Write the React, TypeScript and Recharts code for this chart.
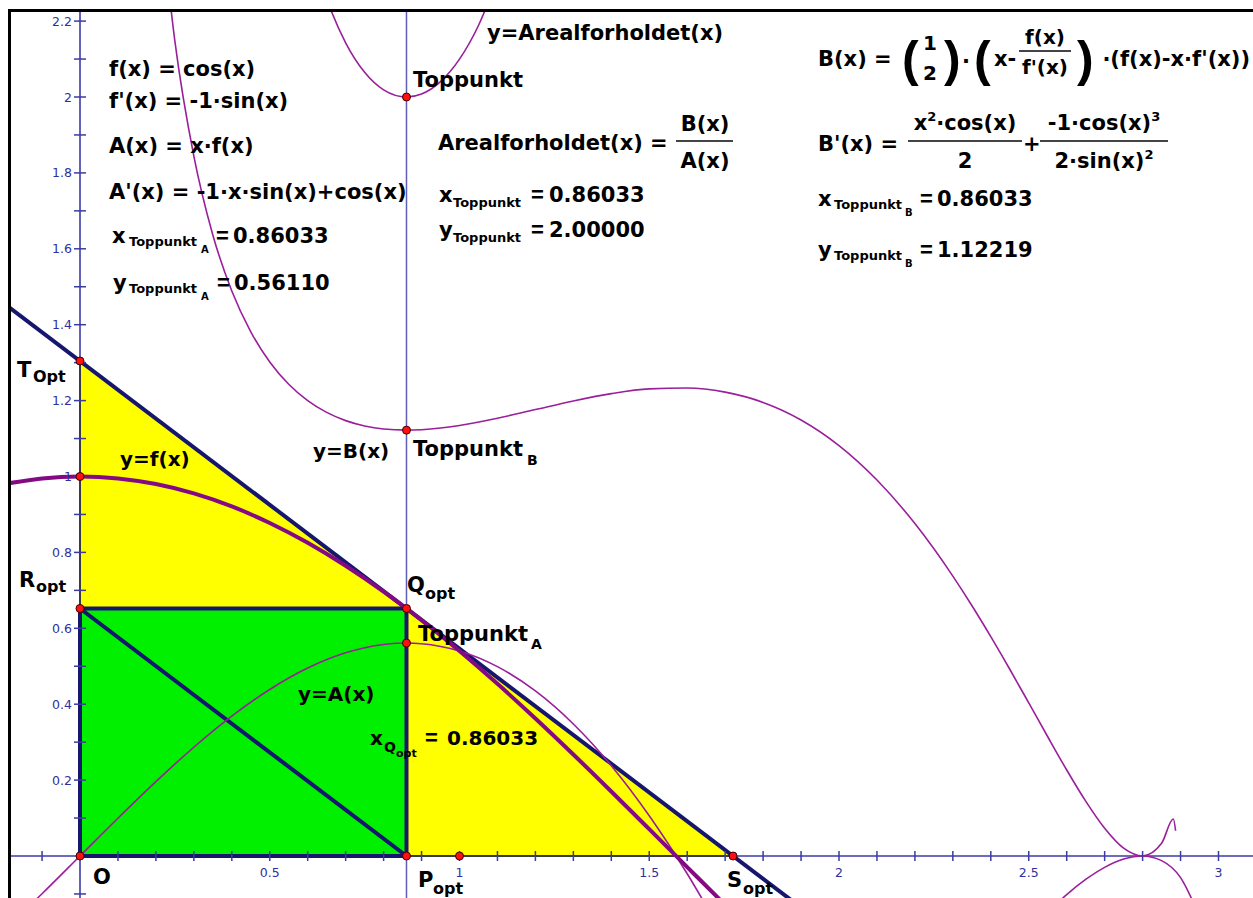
import React from 'react';
import { Area, ComposedChart, Line, Scatter, XAxis, YAxis } from 'recharts';

// visible window of the graphics view, in graph units
const X_DOMAIN: [number, number] = [-0.18182, 3.09091];
const Y_DOMAIN: [number, number] = [-0.11067, 2.22398];

// optimal construction: Q on the curve, tangent hits the axes in T and S
const qX = 0.86033;
const qY = 0.65224;
const tY = 1.30438;
const sX = 1.72079;

// f(x) = cos(x)
const fX = [-0.2, -0.1, 0, 0.1, 0.2, 0.3, 0.4, 0.5, 0.6, 0.7, 0.8, 0.9, 1.0, 1.1, 1.2, 1.3, 1.4, 1.5, 1.6, 1.7, 1.8];
const fY = [0.98007, 0.995, 1, 0.995, 0.98007, 0.95534, 0.92106, 0.87758, 0.82534, 0.76484, 0.69671, 0.62161, 0.5403, 0.4536, 0.36236, 0.2675, 0.16997, 0.07074, -0.0292, -0.12884, -0.2272];

// A(x) = x·f(x)
const aX = [-0.2, -0.1, 0, 0.1, 0.2, 0.3, 0.4, 0.5, 0.6, 0.7, 0.8, 0.86033, 0.9, 1.0, 1.1, 1.2, 1.3, 1.4, 1.5, 1.6, 1.7];
const aY = [-0.19601, -0.0995, 0, 0.0995, 0.19601, 0.2866, 0.36842, 0.43879, 0.4952, 0.53539, 0.55737, 0.56114, 0.55945, 0.5403, 0.49896, 0.43483, 0.34775, 0.23796, 0.10611, -0.04672, -0.21903];

// B(x), triangle area
const bX = [0.2, 0.25, 0.3, 0.35, 0.4, 0.45, 0.5, 0.55, 0.6, 0.65, 0.7, 0.75, 0.8, 0.86033, 0.9, 0.95, 1.0, 1.1, 1.2, 1.3, 1.4, 1.5, 1.6, 1.7, 1.8, 1.9, 2.0, 2.1, 2.2, 2.3, 2.35, 2.4, 2.45, 2.5, 2.55, 2.6, 2.65, 2.7, 2.75, 2.8, 2.85, 2.881, 2.887];
const bY = [2.6174, 2.14726, 1.84409, 1.63648, 1.48883, 1.38128, 1.30191, 1.24319, 1.20004, 1.16889, 1.14724, 1.1332, 1.12525, 1.12219, 1.12334, 1.12763, 1.13447, 1.15358, 1.17635, 1.19909, 1.21836, 1.2308, 1.23316, 1.22229, 1.19518, 1.14904, 1.08155, 0.99082, 0.87605, 0.73761, 0.66021, 0.57809, 0.49212, 0.40359, 0.31425, 0.22666, 0.14446, 0.07304, 0.02056, 0.00003, 0.03335, 0.09732, 0.0665];

// Arealforholdet(x) = B(x)/A(x), two visible branches
const rTopX = [0.6, 0.65, 0.7, 0.75, 0.8, 0.86033, 0.9, 0.95, 1.0, 1.05, 1.1];
const rTopY = [2.4233, 2.25894, 2.14283, 2.06502, 2.01887, 2.0, 2.00794, 2.0406, 2.09971, 2.18837, 2.31197];
const rLowX = [2.55, 2.6, 2.65, 2.7, 2.75, 2.8, 2.85, 2.9, 2.95];
const rLowY = [-0.14847, -0.10173, -0.06184, -0.02992, -0.00809, -0.00001, -0.01222, -0.057, -0.15991];

// tangent line through Q
const tanX = [-0.2, 1.9];
const tanY = [1.45598, -0.13584];

// axis ticks and their labels
const xTicks = [-0.1, 0.1, 0.2, 0.3, 0.4, 0.5, 0.6, 0.7, 0.8, 0.9, 1, 1.1, 1.2, 1.3, 1.4, 1.5, 1.6, 1.7, 1.8, 1.9, 2, 2.1, 2.2, 2.3, 2.4, 2.5, 2.6, 2.7, 2.8, 2.9, 3];
const xLabelAt = [0.5, 1, 1.5, 2, 2.5, 3];
const xLabels = ['0.5', '1', '1.5', '2', '2.5', '3'];
const yTicks = [-0.1, 0.1, 0.2, 0.3, 0.4, 0.5, 0.6, 0.7, 0.8, 0.9, 1, 1.1, 1.2, 1.3, 1.4, 1.5, 1.6, 1.7, 1.8, 1.9, 2, 2.1, 2.2];
const yLabelAt = [0.2, 0.4, 0.6, 0.8, 1, 1.2, 1.4, 1.6, 1.8, 2, 2.2];
const yLabels = ['0.2', '0.4', '0.6', '0.8', '1', '1.2', '1.4', '1.6', '1.8', '2', '2.2'];

// named points: T, f(0), R, Q, TopA, O, P, (1,0), S, TopB, Toppunkt
const ptX = [0, 0, 0, qX, qX, 0, qX, 1, sX, qX, qX];
const ptY = [tY, 1, qY, qY, 0.5611, 0, 0, 0, 0, 1.12219, 2.0];

const AXIS = '#3b3ba4';
const NAVY = '#16166e';
const PURPLE = '#840a84';
const THIN = '#9a1f9a';
const FONT = "'DejaVu Sans', Verdana, sans-serif";
const NARROW = "'Liberation Sans', Arial, sans-serif";

const pairs = (xs: number[], ys: number[]) => xs.map((x, i) => ({ x, y: ys[i] }));

const fData = pairs(fX, fY);
const aData = pairs(aX, aY);
const bData = pairs(bX, bY);
const rTopData = pairs(rTopX, rTopY);
const rLowData = pairs(rLowX, rLowY);
const tanData = pairs(tanX, tanY);
const triangle = [{ x: 0, y: tY }, { x: sX, y: 0 }];
const rectFill = [{ x: 0, y: qY }, { x: qX, y: qY }];
const triEdge = [{ x: 0, y: 0 }, { x: sX, y: 0 }, { x: 0, y: tY }, { x: 0, y: 0 }];
const rectEdge = [{ x: 0, y: 0 }, { x: qX, y: 0 }, { x: qX, y: qY }, { x: 0, y: qY }, { x: 0, y: 0 }];
const diagonal = [{ x: 0, y: qY }, { x: qX, y: 0 }];
const xAxisLine = [{ x: -0.3, y: 0 }, { x: 3.2, y: 0 }];
const yAxisLine = [{ x: 0, y: -0.2 }, { x: 0, y: 2.3 }];
const qVertical = [{ x: qX, y: -0.2 }, { x: qX, y: 2.3 }];
const xTickData = xTicks.map((x) => {
  const k = xLabelAt.indexOf(x);
  return { x, y: 0, label: k >= 0 ? xLabels[k] : '' };
});
const yTickData = yTicks.map((y) => {
  const k = yLabelAt.indexOf(y);
  return { x: 0, y, label: k >= 0 ? yLabels[k] : '' };
});
const points = pairs(ptX, ptY);

const XTick = (p: any) => (
  <g>
    <line x1={p.cx} y1={p.cy - 5} x2={p.cx} y2={p.cy + 5} stroke={AXIS} strokeWidth={1.5} />
    {p.payload.label ? (
      <text x={p.cx} y={p.cy + 21} textAnchor="middle" fontSize={12.5} fontFamily={FONT} fill="#2f2fa0">
        {p.payload.label}
      </text>
    ) : null}
  </g>
);

const YTick = (p: any) => (
  <g>
    <line x1={p.cx - 6} y1={p.cy} x2={p.cx + 6} y2={p.cy} stroke={AXIS} strokeWidth={1.5} />
    {p.payload.label ? (
      <text x={p.cx - 8} y={p.cy + 4.5} textAnchor="end" fontSize={12.5} fontFamily={FONT} fill="#2f2fa0">
        {p.payload.label}
      </text>
    ) : null}
  </g>
);

const Dot = (p: any) => <circle cx={p.cx} cy={p.cy} r={4} fill="#ff1010" stroke="#3a0000" strokeWidth={1} />;

const line = (data: any[], stroke: string, width: number, type: 'linear' | 'monotone' = 'linear') => (
  <Line
    data={data}
    dataKey="y"
    type={type}
    stroke={stroke}
    strokeWidth={width}
    dot={false}
    activeDot={false}
    isAnimationActive={false}
  />
);

const Tx = ({ x, y, s = 21, a, f, children }: any) => (
  <text x={x} y={y} fontSize={s} textAnchor={a} fontFamily={f || FONT} fontWeight={700} fill="#000">
    {children}
  </text>
);

// narrow equals sign used between a subscripted name and its value
const Eq = ({ x, y }: { x: number; y: number }) => (
  <Tx x={x} y={y} f={NARROW} s={22}>=</Tx>
);

const Paren = ({ x, c }: { x: number; c: string }) => (
  <Tx x={x} y={76} s={50} f={NARROW}>{c}</Tx>
);

const Bar = ({ x1, x2, y }: { x1: number; x2: number; y: number }) => (
  <line x1={x1} x2={x2} y1={y} y2={y} stroke="#444" strokeWidth={2} />
);

function Formulas() {
  return (
    <svg width={1253} height={898} style={{ position: 'absolute', left: 0, top: 0, pointerEvents: 'none' }}>
      {/* definitions, left column */}
      <Tx x={109} y={76}>f(x) = cos(x)</Tx>
      <Tx x={109} y={108}>f'(x) = -1·sin(x)</Tx>
      <Tx x={109} y={153}>A(x) = x·f(x)</Tx>
      <Tx x={109} y={199}>A'(x) = -1·x·sin(x)+cos(x)</Tx>
      <Tx x={112} y={243}>x</Tx>
      <Tx x={129} y={246} s={13}>Toppunkt</Tx>
      <Tx x={201} y={253} s={10}>A</Tx>
      <Eq x={216} y={243} />
      <Tx x={233} y={243}>0.86033</Tx>
      <Tx x={113} y={290}>y</Tx>
      <Tx x={129} y={293} s={13}>Toppunkt</Tx>
      <Tx x={201} y={300} s={10}>A</Tx>
      <Eq x={217} y={290} />
      <Tx x={234} y={290}>0.56110</Tx>

      {/* area ratio, middle column */}
      <Tx x={487} y={40}>y=Arealforholdet(x)</Tx>
      <Tx x={413} y={87}>Toppunkt</Tx>
      <Tx x={438} y={150}>Arealforholdet(x) =</Tx>
      <Tx x={705} y={131} a="middle">B(x)</Tx>
      <Bar x1={676} x2={733} y={141} />
      <Tx x={705} y={168} a="middle">A(x)</Tx>
      <Tx x={439} y={202}>x</Tx>
      <Tx x={453} y={207} s={13}>Toppunkt</Tx>
      <Eq x={531} y={202} />
      <Tx x={549} y={202}>0.86033</Tx>
      <Tx x={439} y={237}>y</Tx>
      <Tx x={453} y={242} s={13}>Toppunkt</Tx>
      <Eq x={531} y={237} />
      <Tx x={549} y={237}>2.00000</Tx>

      {/* triangle area B, right column */}
      <Tx x={818} y={66}>B(x) =</Tx>
      <Paren x={902} c="(" />
      <Tx x={930} y={50} s={20} a="middle">1</Tx>
      <Tx x={930} y={80} s={20} a="middle">2</Tx>
      <Paren x={944} c=")" />
      <Tx x={962} y={68}>·</Tx>
      <Paren x={974} c="(" />
      <Tx x={994} y={66}>x-</Tx>
      <Tx x={1045} y={44} s={20} a="middle">f(x)</Tx>
      <Bar x1={1019} x2={1071} y={51} />
      <Tx x={1045} y={74} s={20} a="middle">f'(x)</Tx>
      <Paren x={1077} c=")" />
      <Tx x={1250} y={66} a="end">·(f(x)-x·f'(x))</Tx>

      <Tx x={818} y={151}>B'(x) =</Tx>
      <Tx x={965} y={130} a="middle">
        x<tspan fontSize={13} dy={-9}>2</tspan>
        <tspan dy={9}>·cos(x)</tspan>
      </Tx>
      <Bar x1={908} x2={1022} y={141} />
      <Tx x={965} y={168} a="middle">2</Tx>
      <Tx x={1023} y={151}>+</Tx>
      <Tx x={1104} y={130} a="middle">
        -1·cos(x)<tspan fontSize={13} dy={-9}>3</tspan>
      </Tx>
      <Bar x1={1040} x2={1168} y={141} />
      <Tx x={1104} y={168} a="middle">
        2·sin(x)<tspan fontSize={13} dy={-9}>2</tspan>
      </Tx>
      <Tx x={818} y={206}>x</Tx>
      <Tx x={834} y={209} s={13}>Toppunkt</Tx>
      <Tx x={905} y={216} s={10}>B</Tx>
      <Eq x={920} y={206} />
      <Tx x={937} y={206}>0.86033</Tx>
      <Tx x={818} y={257}>y</Tx>
      <Tx x={834} y={260} s={13}>Toppunkt</Tx>
      <Tx x={905} y={267} s={10}>B</Tx>
      <Eq x={920} y={257} />
      <Tx x={937} y={257}>1.12219</Tx>

      {/* point and curve captions */}
      <Tx x={17} y={377}>T</Tx>
      <Tx x={33} y={382} s={16}>Opt</Tx>
      <Tx x={19} y={587}>R</Tx>
      <Tx x={36} y={592} s={16}>opt</Tx>
      <Tx x={120} y={466} s={20}>y=f(x)</Tx>
      <Tx x={313} y={458} s={20}>y=B(x)</Tx>
      <Tx x={413} y={456}>Toppunkt</Tx>
      <Tx x={527} y={465} s={14}>B</Tx>
      <Tx x={407} y={592}>Q</Tx>
      <Tx x={425} y={599} s={16}>opt</Tx>
      <Tx x={418} y={641}>Toppunkt</Tx>
      <Tx x={531} y={649} s={14}>A</Tx>
      <Tx x={298} y={701} s={20}>y=A(x)</Tx>
      <Tx x={370} y={745} s={20}>x</Tx>
      <Tx x={384} y={752} s={14}>Q</Tx>
      <Tx x={396} y={757} s={11}>opt</Tx>
      <Eq x={425} y={745} />
      <Tx x={447} y={745} s={20}>0.86033</Tx>
      <Tx x={93} y={884}>O</Tx>
      <Tx x={418} y={887}>P</Tx>
      <Tx x={433} y={894} s={16}>opt</Tx>
      <Tx x={727} y={887}>S</Tx>
      <Tx x={743} y={894} s={16}>opt</Tx>
    </svg>
  );
}

export default function App() {
  return (
    <div style={{ position: 'absolute', left: 0, top: 0, width: 1253, height: 898, background: '#fff', overflow: 'hidden' }}>
      <div style={{ position: 'absolute', left: 8, top: 9, width: 1245, height: 3, background: '#000' }} />
      <div style={{ position: 'absolute', left: 8, top: 9, width: 3, height: 889, background: '#000' }} />
      <div style={{ position: 'absolute', left: 11, top: 12 }}>
        <ComposedChart width={1242} height={886} margin={{ top: 0, right: 0, bottom: 0, left: 0 }}>
          <XAxis type="number" dataKey="x" domain={X_DOMAIN} allowDataOverflow hide />
          <YAxis type="number" dataKey="y" domain={Y_DOMAIN} allowDataOverflow hide />

          <Area data={triangle} dataKey="y" type="linear" baseValue={0} fill="#ffff00" fillOpacity={1} stroke="none" isAnimationActive={false} />
          <Area data={rectFill} dataKey="y" type="linear" baseValue={0} fill="#00f000" fillOpacity={1} stroke="none" isAnimationActive={false} />

          {line(xAxisLine, AXIS, 1.6)}
          {line(yAxisLine, AXIS, 1.6)}
          <Scatter data={xTickData} shape={XTick} isAnimationActive={false} />
          <Scatter data={yTickData} shape={YTick} isAnimationActive={false} />
          {line(triEdge, '#2a2a2a', 1.4)}
          {line(qVertical, '#5e5eb8', 1.5)}

          {line(tanData, NAVY, 4)}
          {line(rectEdge, NAVY, 4)}
          {line(diagonal, NAVY, 4)}

          {line(bData, THIN, 1.6, 'monotone')}
          {line(rTopData, THIN, 1.6, 'monotone')}
          {line(rLowData, THIN, 1.6, 'monotone')}
          {line(aData, THIN, 1.6, 'monotone')}
          {line(fData, PURPLE, 4, 'monotone')}

          <Scatter data={points} shape={Dot} isAnimationActive={false} />
        </ComposedChart>
      </div>
      <Formulas />
    </div>
  );
}
